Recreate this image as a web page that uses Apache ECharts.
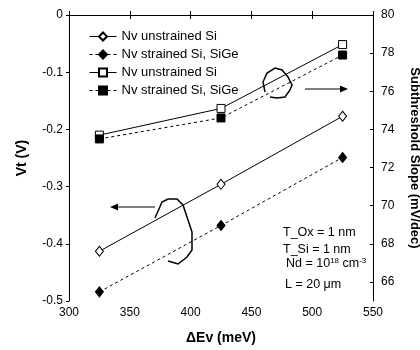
<!DOCTYPE html>
<html>
<head>
<meta charset="utf-8">
<script src="https://cdn.jsdelivr.net/npm/echarts@6/dist/echarts.min.js"></script>
<style>html,body{margin:0;padding:0;background:#fff}#c{width:420px;height:350px}</style>
</head>
<body>
<div id="c"></div>
<script>
var deltaEv = [325, 425, 525];
var vtUnstrained = [-0.413, -0.296, -0.177];
var vtStrained = [-0.484, -0.368, -0.249];
var ssUnstrained = [73.7, 75.1, 78.45];
var ssStrained = [73.5, 74.6, 77.9];
var legendNames = ['Nv unstrained Si', 'Nv strained Si, SiGe', 'Nv unstrained Si', 'Nv strained Si, SiGe'];
var rightTicks = [66, 68, 70, 72, 74, 76, 78, 80];

function pairs(xs, ys) { return xs.map(function (x, i) { return [x, ys[i]]; }); }

var font = 'Liberation Sans, Arial, sans-serif';
var chart = echarts.init(document.getElementById('c'));
var ids = ['s0', 's1', 's2', 's3'];
chart.setOption({
  animation: false,
  textStyle: { fontFamily: font, color: '#000' },
  grid: { left: 69, right: 47, top: 15, bottom: 49, outerBoundsMode: 'none', containLabel: false },
  legend: {
    data: ids, orient: 'vertical', left: 84, top: 25,
    itemWidth: 27, itemHeight: 10, itemGap: 5,
    lineStyle: { width: 1 },
    textStyle: { fontSize: 13, fontFamily: font, color: '#000' },
    formatter: function (n) { return legendNames[ids.indexOf(n)]; }
  },
  xAxis: [{
    type: 'value', min: 300, max: 550, interval: 50,
    name: 'ΔEv (meV)', nameLocation: 'middle', nameGap: 30,
    nameTextStyle: { fontSize: 14, fontWeight: 'bold', fontFamily: font, color: '#000' },
    axisLine: { lineStyle: { color: '#000', width: 1 } },
    axisTick: { inside: true, length: 4, lineStyle: { color: '#000' } },
    axisLabel: { fontSize: 12, color: '#000', margin: 6 },
    splitLine: { show: false }
  }, {
    type: 'value', min: 300, max: 550, interval: 50, position: 'top',
    axisLine: { lineStyle: { color: '#000', width: 1 } },
    axisTick: { inside: true, length: 4, lineStyle: { color: '#000' } },
    axisLabel: { show: false }, splitLine: { show: false }
  }],
  yAxis: [{
    type: 'value', min: -0.5, max: 0, interval: 0.1,
    name: 'Vt (V)', nameLocation: 'middle', nameGap: 40,
    nameTextStyle: { fontSize: 14, fontWeight: 'bold', fontFamily: font, color: '#000' },
    axisLine: { show: true, lineStyle: { color: '#000', width: 1 } },
    axisTick: { show: true, inside: false, length: 3, lineStyle: { color: '#000' } },
    axisLabel: { fontSize: 12, color: '#000', margin: 6,
      formatter: function (v) { return v === 0 ? '0' : String(Math.round(v * 10) / 10); } },
    splitLine: { show: false }
  }, {
    type: 'value', min: 65, max: 80, position: 'right',
    name: 'Subthreshold Slope (mV/dec)', nameLocation: 'middle', nameGap: 35, nameRotate: -90,
    nameTextStyle: { fontSize: 13, fontWeight: 'bold', fontFamily: font, color: '#000' },
    axisLine: { show: true, lineStyle: { color: '#000', width: 1 } },
    axisTick: { show: true, inside: true, length: 3, customValues: rightTicks, lineStyle: { color: '#000' } },
    axisLabel: { fontSize: 12, color: '#000', margin: 8, customValues: rightTicks },
    splitLine: { show: false }
  }],
  series: [{
    id: 's0', name: 's0', type: 'line', xAxisIndex: 0, yAxisIndex: 0,
    data: pairs(deltaEv, vtUnstrained), symbol: 'diamond', symbolSize: [8, 10],
    lineStyle: { color: '#000', width: 1 },
    itemStyle: { color: '#fff', borderColor: '#000', borderWidth: 1 }
  }, {
    id: 's1', name: 's1', type: 'line', xAxisIndex: 0, yAxisIndex: 0,
    data: pairs(deltaEv, vtStrained), symbol: 'diamond', symbolSize: [8, 10],
    lineStyle: { color: '#000', width: 1, type: [3, 3] },
    itemStyle: { color: '#000', borderColor: '#000', borderWidth: 1 }
  }, {
    id: 's2', name: 's2', type: 'line', xAxisIndex: 0, yAxisIndex: 1,
    data: pairs(deltaEv, ssUnstrained), symbol: 'rect', symbolSize: 8,
    lineStyle: { color: '#000', width: 1 },
    itemStyle: { color: '#fff', borderColor: '#000', borderWidth: 1 }
  }, {
    id: 's3', name: 's3', type: 'line', xAxisIndex: 0, yAxisIndex: 1,
    data: pairs(deltaEv, ssStrained), symbol: 'rect', symbolSize: 8,
    lineStyle: { color: '#000', width: 1, type: [3, 3] },
    itemStyle: { color: '#000', borderColor: '#000', borderWidth: 1 }
  }],
  graphic: [
    { type: 'polyline', shape: { points: [[265,92],[263,82],[267,73],[275,68],[282,70],[288,77],[292,85],[290,90],[285,97],[277,98],[270,97]] },
      style: { stroke: '#000', lineWidth: 1.5, fill: null } },
    { type: 'polyline', shape: { points: [[155,218],[162,202],[168,199],[177,199],[183,205],[187,217],[192,232],[192,250],[187,257],[178,264],[168,261]] },
      style: { stroke: '#000', lineWidth: 1.5, fill: null } },
    { type: 'line', shape: { x1: 305, y1: 89, x2: 341, y2: 89 }, style: { stroke: '#000', lineWidth: 1 } },
    { type: 'polygon', shape: { points: [[340,85.5],[348,89],[340,92.5]] }, style: { fill: '#000' } },
    { type: 'line', shape: { x1: 155, y1: 207, x2: 117, y2: 207 }, style: { stroke: '#000', lineWidth: 1 } },
    { type: 'polygon', shape: { points: [[118,203.5],[110,207],[118,210.5]] }, style: { fill: '#000' } },
    { type: 'text', left: 283, top: 226, style: { text: 'T_Ox = 1 nm', font: '12.5px ' + font, fill: '#000' } },
    { type: 'text', left: 283, top: 243, style: { text: 'T_Si = 1 nm', font: '12.5px ' + font, fill: '#000' } },
    { type: 'text', left: 286, top: 257, style: {
        text: 'Nd = 10{sup|18} cm{sup|-3}', font: '12.5px ' + font, fill: '#000',
        rich: { sup: { fontSize: 8, fontFamily: font, verticalAlign: 'top', padding: [0, 0, 6, 0], fill: '#000' } } } },
    { type: 'text', left: 285, top: 278, style: { text: 'L = 20 μm', font: '12.5px ' + font, fill: '#000' } }
  ]
});
</script>
</body>
</html>
